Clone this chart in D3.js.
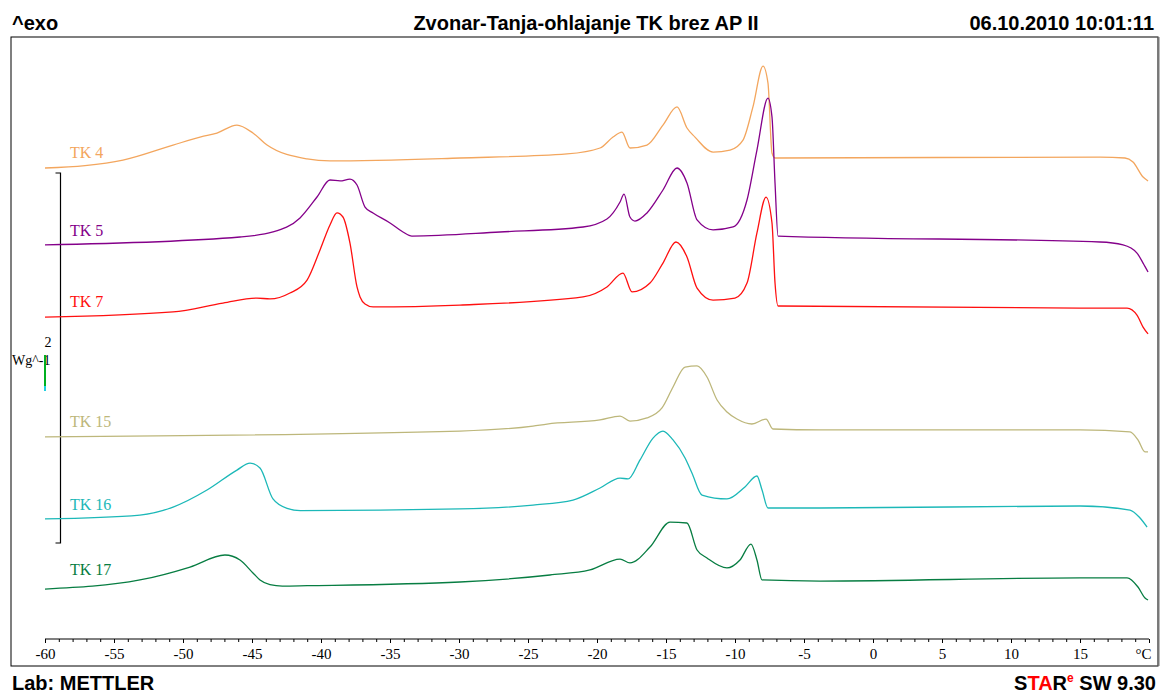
<!DOCTYPE html>
<html>
<head>
<meta charset="utf-8">
<script src="https://cdn.jsdelivr.net/npm/d3@7"></script>
<style>
  body { margin: 0; background: #fff; }
  svg { display: block; }
</style>
</head>
<body>
<svg id="chart" width="1162" height="693"></svg>
<script>
// temperatures (°C) and heat flow (W/g, shifted curves as displayed)
const tk4Temp = [-60, -57.1, -54.35, -50.72, -48.7, -47.54, -46.09, -44.93, -43.91, -41.01, -39.35, -29.93, -22.17, -19.78, -18.84, -18.19, -17.61, -16.38, -15.22, -14.2, -13.48, -12.9, -11.59, -10.36, -9.42, -8.7, -7.97, -7.61, -7.32, -7.1, 16.45, 18.26, 18.84, 19.57, 19.93];
const tk4Flow = [2.692, 2.705, 2.735, 2.816, 2.86, 2.881, 2.924, 2.881, 2.816, 2.741, 2.73, 2.746, 2.768, 2.8, 2.859, 2.886, 2.8, 2.816, 2.924, 3.022, 2.908, 2.859, 2.778, 2.789, 2.843, 3.022, 3.243, 3.151, 2.773, 2.746, 2.751, 2.746, 2.724, 2.643, 2.622];

const tk5Temp = [-60, -45.87, -43.48, -41.52, -40.29, -39.35, -38.62, -37.9, -37.39, -36.81, -36.23, -35.0, -34.06, -33.41, -27.03, -21.01, -19.28, -18.33, -18.04, -17.61, -17.25, -16.38, -15.22, -14.2, -13.48, -12.75, -11.59, -10.14, -9.13, -8.41, -7.61, -7.32, -7.1, -6.88, 16.45, 18.12, 19.13, 19.57, 19.93];
const tk5Flow = [2.276, 2.319, 2.346, 2.422, 2.535, 2.627, 2.622, 2.632, 2.6, 2.481, 2.449, 2.395, 2.346, 2.324, 2.346, 2.373, 2.416, 2.508, 2.551, 2.427, 2.405, 2.449, 2.573, 2.692, 2.611, 2.411, 2.357, 2.373, 2.519, 2.789, 3.07, 2.968, 2.611, 2.324, 2.292, 2.276, 2.232, 2.178, 2.13];

const tk7Temp = [-60, -50.72, -47.1, -44.64, -43.7, -42.25, -41.01, -40.07, -39.35, -38.84, -38.41, -37.9, -37.39, -37.17, -36.81, -36.23, -29.93, -21.01, -19.28, -18.12, -17.46, -16.16, -15.22, -14.28, -13.48, -12.75, -11.59, -10.0, -9.13, -8.41, -7.75, -7.32, -7.1, -6.88, 15.0, 18.41, 19.13, 19.57, 19.93];
const tk7Flow = [1.886, 1.914, 1.962, 1.989, 1.984, 2.016, 2.086, 2.249, 2.384, 2.449, 2.427, 2.286, 2.049, 1.995, 1.957, 1.941, 1.951, 1.995, 2.049, 2.124, 2.022, 2.07, 2.178, 2.292, 2.211, 2.043, 1.978, 1.989, 2.07, 2.341, 2.535, 2.395, 2.07, 1.946, 1.935, 1.935, 1.897, 1.832, 1.795];

const tk15Temp = [-60, -29.93, -24.64, -23.62, -19.78, -18.33, -17.61, -16.38, -15.29, -14.49, -13.62, -12.75, -12.03, -11.3, -10.58, -9.86, -8.77, -7.75, -7.25, -3.84, 15.0, 18.62, 19.2, 19.71, 19.93];
const tk15Flow = [1.238, 1.27, 1.297, 1.308, 1.33, 1.351, 1.324, 1.341, 1.395, 1.508, 1.616, 1.622, 1.562, 1.438, 1.373, 1.335, 1.308, 1.335, 1.281, 1.276, 1.276, 1.265, 1.222, 1.157, 1.157];

const tk16Temp = [-60, -53.12, -50.72, -48.26, -46.09, -45.14, -44.42, -43.48, -42.46, -41.5, -29.93, -24.64, -21.74, -19.78, -18.33, -17.75, -16.88, -15.94, -15.22, -14.49, -13.62, -13.12, -12.39, -10.58, -9.28, -8.41, -8.04, -7.61, -3.84, 15.0, 18.62, 19.35, 19.86];
const tk16Flow = [0.795, 0.816, 0.859, 0.951, 1.059, 1.097, 1.07, 0.903, 0.852, 0.840, 0.849, 0.87, 0.897, 0.962, 1.016, 1.011, 1.114, 1.232, 1.27, 1.222, 1.124, 1.043, 0.924, 0.903, 0.968, 1.027, 0.951, 0.854, 0.854, 0.865, 0.843, 0.8, 0.751];

const tk17Temp = [-60, -53.12, -49.49, -46.96, -45.87, -44.93, -44.42, -43.7, -42.8, -41.0, -29.93, -23.41, -20.51, -18.33, -17.61, -16.16, -14.71, -13.48, -12.75, -12.03, -10.58, -9.64, -8.84, -8.41, -8.04, -3.84, 15.0, 18.41, 19.2, 19.71, 19.93];
const tk17Flow = [0.416, 0.465, 0.535, 0.6, 0.573, 0.503, 0.465, 0.440, 0.432, 0.434, 0.454, 0.492, 0.519, 0.578, 0.557, 0.643, 0.778, 0.773, 0.627, 0.584, 0.53, 0.573, 0.659, 0.573, 0.465, 0.459, 0.476, 0.476, 0.427, 0.368, 0.357];

const seriesNames = ["TK 4", "TK 5", "TK 7", "TK 15", "TK 16", "TK 17"];
const seriesColors = ["#f3a65e", "#84008a", "#ff1010", "#bdb77b", "#1cb8b8", "#077d42"];
const labelLift = [10, 9, 10, 10, 9, 14];

const majorTicks = [-60, -55, -50, -45, -40, -35, -30, -25, -20, -15, -10, -5, 0, 5, 10, 15, 20];
const scaleBarTop = 2.665;   // W/g
const scaleBarSpan = 2;      // W/g

const series = seriesNames.map((name, i) => ({
  name,
  color: seriesColors[i],
  lift: labelLift[i],
  points: [tk4Temp, tk5Temp, tk7Temp, tk15Temp, tk16Temp, tk17Temp][i].map((t, j) => ({
    t, v: [tk4Flow, tk5Flow, tk7Flow, tk15Flow, tk16Flow, tk17Flow][i][j]
  }))
}));

const svg = d3.select("#chart");
const frame = {left: 11, top: 37, right: 1158, bottom: 666};

const xScale = d3.scaleLinear().domain([-60, 20]).range([45, 1149]);
const yScale = d3.scaleLinear().domain([0, 3.4]).range([frame.bottom, frame.top]);

const sans = "'Liberation Sans', Arial, sans-serif";
const serif = "'Liberation Serif', 'Times New Roman', serif";

// header / footer
const boldText = (x, y, anchor, txt) => svg.append("text")
  .attr("x", x).attr("y", y).attr("text-anchor", anchor)
  .attr("font-family", sans).attr("font-weight", "bold").attr("font-size", 20)
  .text(txt);
boldText(12, 30, "start", "^exo");
boldText(586, 30, "middle", "Zvonar-Tanja-ohlajanje TK brez AP II");
boldText(1154, 30, "end", "06.10.2010 10:01:11");
boldText(12, 690, "start", "Lab: METTLER");
const star = svg.append("text").attr("x", 1156).attr("y", 690).attr("text-anchor", "end")
  .attr("font-family", sans).attr("font-weight", "bold").attr("font-size", 20);
star.append("tspan").text("S");
star.append("tspan").attr("fill", "#ff0000").text("TA");
star.append("tspan").text("R");
star.append("tspan").attr("fill", "#ff0000").attr("font-size", 12).attr("dy", -8).text("e");
star.append("tspan").attr("dy", 8).text(" SW 9.30");

// frame
svg.append("rect")
  .attr("x", frame.left).attr("y", frame.top)
  .attr("width", frame.right - frame.left).attr("height", frame.bottom - frame.top)
  .attr("fill", "none").attr("stroke", "#000").attr("stroke-width", 1);
svg.append("line")
  .attr("x1", frame.right + 0.5).attr("x2", frame.right + 0.5)
  .attr("y1", frame.top).attr("y2", frame.bottom)
  .attr("stroke", "#777").attr("stroke-width", 2);

// x axis: minor ticks every degree, majors labelled
const axisY = 639;
const xAxisMinor = d3.axisBottom(xScale)
  .tickValues(d3.range(-60, 21, 1))
  .tickSize(3).tickFormat("");
const xAxisMajor = d3.axisBottom(xScale)
  .tickValues(majorTicks)
  .tickSize(4).tickPadding(5)
  .tickFormat((d) => d === 20 ? "°C" : String(d));
svg.append("g").attr("transform", `translate(0, ${axisY})`).call(xAxisMinor)
  .call((g) => g.select(".domain").remove());
const majorG = svg.append("g").attr("transform", `translate(0, ${axisY})`).call(xAxisMajor);
majorG.select(".domain").attr("d", `M${xScale(-60)},0H${xScale(20)}`);
majorG.selectAll("text")
  .attr("font-family", serif).attr("font-size", 15).attr("fill", "#000");
majorG.selectAll("text").filter((d) => d === 20).attr("dx", -6);
svg.selectAll(".tick line, .domain").attr("stroke", "#000");

// scale bar (2 W/g)
const barX = 60.5;
const barTopY = yScale(scaleBarTop);
const barBotY = yScale(scaleBarTop - scaleBarSpan);
svg.append("path")
  .attr("d", `M${barX - 5},${barTopY}H${barX}V${barBotY}H${barX - 5}`)
  .attr("fill", "none").attr("stroke", "#000").attr("stroke-width", 1.2);
svg.append("text").attr("x", 48).attr("y", 347).attr("text-anchor", "middle")
  .attr("font-family", serif).attr("font-size", 14).text("2");
svg.append("text").attr("x", 12).attr("y", 365)
  .attr("font-family", serif).attr("font-size", 14).text("Wg^-1");
svg.append("line").attr("x1", 45).attr("x2", 45).attr("y1", 355).attr("y2", 386)
  .attr("stroke", "#00b020").attr("stroke-width", 2);
svg.append("line").attr("x1", 45).attr("x2", 45).attr("y1", 386).attr("y2", 391)
  .attr("stroke", "#20d0e0").attr("stroke-width", 2);

// curves
const line = d3.line()
  .x((d) => xScale(d.t))
  .y((d) => yScale(d.v))
  .curve(d3.curveMonotoneX);

const curves = svg.append("g").attr("class", "curves");
curves.selectAll("path")
  .data(series)
  .enter()
  .append("path")
  .attr("d", (d) => line(d.points))
  .attr("fill", "none")
  .attr("stroke", (d) => d.color)
  .attr("stroke-width", 1.3);

curves.selectAll("text")
  .data(series)
  .enter()
  .append("text")
  .attr("x", 70)
  .attr("y", (d) => yScale(d.points[0].v) - d.lift)
  .attr("fill", (d) => d.color)
  .attr("font-family", serif)
  .attr("font-size", 16)
  .text((d) => d.name);
</script>
</body>
</html>
